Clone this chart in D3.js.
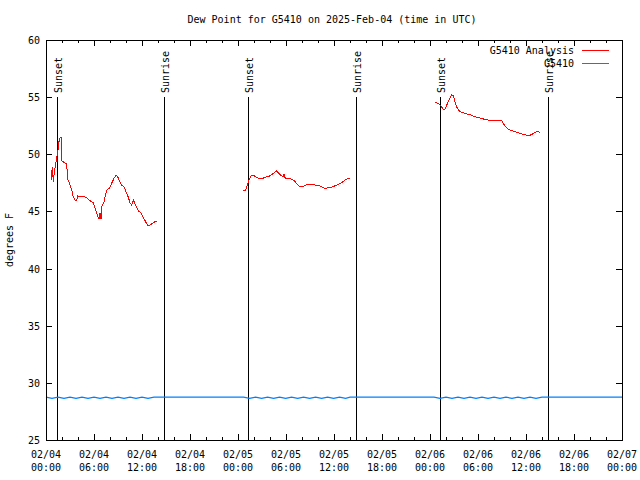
<!DOCTYPE html>
<html>
<head>
<meta charset="utf-8">
<script src="https://cdn.jsdelivr.net/npm/d3@7"></script>
<style>
  html, body { margin: 0; padding: 0; background: #fff; }
  svg { display: block; }
  text { font-family: "DejaVu Sans Mono", monospace; font-size: 10px; fill: #000; }
</style>
</head>
<body>
<svg id="chart" width="640" height="480"></svg>
<script>
// ---- data (hours after 2025-02-04 00:00 UTC) ----
const titleText = "Dew Point for G5410 on 2025-Feb-04 (time in UTC)";
const yLabel = "degrees F";
const seriesNames = ["G5410 Analysis", "G5410"];
const yTicks = [25, 30, 35, 40, 45, 50, 55, 60];

const sunsetHours = [1.4, 25.3, 49.3];
const sunriseHours = [14.8, 38.75, 62.7];

const redHours = [
  0.63, 0.71, 0.79, 0.92, 1.04, 1.17, 1.29, 1.46, 1.58, 1.75, 1.88, 1.9, 2.17, 2.58, 2.71, 2.88,
  3.21, 3.42, 3.63, 3.83, 3.96, 4.25, 4.54, 4.79, 5.08, 5.5, 5.92, 6.13, 6.46, 6.63, 6.75, 6.88,
  6.96, 7.25, 7.5, 7.67, 7.92, 8.21, 8.5, 8.75, 8.92, 9.17, 9.46, 9.75, 10.0, 10.29, 10.5, 10.71,
  10.92, 11.25, 11.54, 11.83, 12.08, 12.38, 12.67, 13.0, 13.33, 13.63, 13.92,
  19.0,
  24.63, 24.91, 25.16, 25.38, 25.66, 26.0, 26.29, 26.71, 27.13, 27.54, 27.96, 28.38, 28.79, 29.09,
  29.41, 29.63, 29.75, 29.91, 30.25, 30.66, 31.09, 31.41, 31.71, 32.0, 32.34, 32.66, 33.16, 33.79,
  34.21, 34.63, 34.91, 35.25, 35.66, 36.09, 36.5, 36.91, 37.34, 37.75, 37.96,
  43.0,
  48.63, 49.04, 49.34, 49.66, 49.88, 50.16, 50.41, 50.71, 50.91, 51.13, 51.41, 51.75, 52.16, 52.59,
  53.0, 53.41, 53.84, 54.25, 54.66, 55.29, 55.91, 56.54, 56.96, 57.16, 57.5, 57.79, 58.21, 58.63,
  59.04, 59.46, 59.88, 60.5, 60.84, 61.25, 61.54, 61.75
];
const redValues = [
  47.75, 48.36, 48.89, 47.58, 48.48, 48.98, 49.5, 50.11, 50.99, 51.43, 51.43, 49.44, 49.33, 49.15, 47.84, 47.58,
  46.88, 46.26, 46.0, 45.94, 46.35, 46.29, 46.26, 46.29, 46.18, 45.94, 45.76, 45.3, 44.6, 44.34, 44.86, 44.34,
  45.41, 45.85, 46.64, 46.94, 47.02, 47.46, 47.9, 48.13, 48.1, 47.69, 47.31, 47.16, 46.73, 46.24, 45.76, 45.56,
  46.0, 45.48, 45.06, 44.89, 44.6, 44.19, 43.81, 43.81, 43.96, 44.1, 44.19,
  null,
  46.79, 46.79, 47.31, 47.75, 48.13, 48.13, 48.01, 47.84, 47.9, 48.04, 48.1, 48.3, 48.54, 48.34,
  48.13, 48.04, 48.25, 47.9, 47.9, 47.84, 47.66, 47.37, 47.14, 47.14, 47.25, 47.37, 47.37, 47.29,
  47.25, 47.08, 47.02, 47.08, 47.11, 47.23, 47.37, 47.49, 47.72, 47.9, 47.9,
  null,
  54.55, 54.46, 54.23, 53.96, 53.96, 54.4, 54.81, 55.19, 55.16, 54.6, 54.02, 53.73, 53.64, 53.53,
  53.46, 53.35, 53.24, 53.18, 53.09, 53.0, 53.0, 53.0, 53.0, 52.71, 52.36, 52.19, 52.06, 51.98,
  51.89, 51.78, 51.69, 51.66, 51.78, 51.95, 52.01, 51.89
];

const blueHours = [
  0, 0.75, 1.5, 2.25, 3, 3.75, 4.5, 5.25, 6, 6.75, 7.5, 8.25, 9, 9.75, 10.5, 11.25, 12, 12.75, 13.5, 14,
  24.7, 25.45, 26.2, 26.95, 27.7, 28.45, 29.2, 29.95, 30.7, 31.45, 32.2, 32.95, 33.7, 34.45, 35.2, 35.95, 36.7, 37.45, 38.0,
  48.5, 49.25, 50, 50.75, 51.5, 52.25, 53, 53.75, 54.5, 55.25, 56, 56.75, 57.5, 58.25, 59, 59.75, 60.5, 61.25, 62, 62.7,
  72
];
const blueValues = [
  28.75, 28.65, 28.75, 28.65, 28.75, 28.65, 28.75, 28.65, 28.75, 28.65, 28.75, 28.65, 28.75, 28.65, 28.75, 28.65, 28.75, 28.65, 28.75, 28.75,
  28.75, 28.65, 28.75, 28.65, 28.75, 28.65, 28.75, 28.65, 28.75, 28.65, 28.75, 28.65, 28.75, 28.65, 28.75, 28.65, 28.75, 28.65, 28.75,
  28.75, 28.65, 28.75, 28.65, 28.75, 28.65, 28.75, 28.65, 28.75, 28.65, 28.75, 28.65, 28.75, 28.65, 28.75, 28.65, 28.75, 28.65, 28.75, 28.75,
  28.75
];

// ---- layout ----
const svg = d3.select("#chart");
const m = { left: 46, right: 622, top: 40, bottom: 440 };
const base = Date.UTC(2025, 1, 4);
const toDate = h => new Date(base + h * 3600e3);

const x = d3.scaleUtc().domain([toDate(0), toDate(72)]).range([m.left, m.right]);
const y = d3.scaleLinear().domain([25, 60]).range([m.bottom, m.top]);

const majorX = x.ticks(d3.utcHour.every(6));
const minorX = x.ticks(d3.utcHour.every(2)).filter(d => d.getUTCHours() % 6 !== 0);

const g = svg.append("g");

// ticks
const tickG = g.append("g").attr("stroke", "#000").attr("stroke-width", 1).attr("shape-rendering", "crispEdges");
majorX.forEach(d => {
  const xx = Math.round(x(d)) + 0.5;
  tickG.append("line").attr("x1", xx).attr("x2", xx).attr("y1", m.bottom).attr("y2", m.bottom - 6);
  tickG.append("line").attr("x1", xx).attr("x2", xx).attr("y1", m.top).attr("y2", m.top + 6);
});
minorX.forEach(d => {
  const xx = Math.round(x(d)) + 0.5;
  tickG.append("line").attr("x1", xx).attr("x2", xx).attr("y1", m.bottom).attr("y2", m.bottom - 3);
  tickG.append("line").attr("x1", xx).attr("x2", xx).attr("y1", m.top).attr("y2", m.top + 3);
});
yTicks.forEach(v => {
  const yy = Math.round(y(v)) + 0.5;
  tickG.append("line").attr("x1", m.left).attr("x2", m.left + 6).attr("y1", yy).attr("y2", yy);
  tickG.append("line").attr("x1", m.right).attr("x2", m.right - 6).attr("y1", yy).attr("y2", yy);
});

// y labels
yTicks.forEach(v => {
  g.append("text").attr("x", m.left - 6).attr("y", y(v) + 4).attr("text-anchor", "end").text(v);
});
// x labels
const fmtD = d3.utcFormat("%m/%d"), fmtT = d3.utcFormat("%H:%M");
majorX.forEach(d => {
  const t = g.append("text").attr("x", x(d)).attr("y", 458).attr("text-anchor", "middle");
  t.append("tspan").attr("x", x(d)).attr("dy", 0).text(fmtD(d));
  t.append("tspan").attr("x", x(d)).attr("dy", 13).text(fmtT(d));
});

// sun lines
const sunG = g.append("g");
function sunLine(h, label) {
  const xx = Math.round(x(toDate(h))) + 0.5;
  sunG.append("line").attr("x1", xx).attr("x2", xx).attr("y1", 97).attr("y2", m.bottom)
    .attr("stroke", "#000").attr("stroke-width", 1).attr("shape-rendering", "crispEdges");
  sunG.append("text").attr("transform", `translate(${xx + 4},93) rotate(-90)`)
    .attr("text-anchor", "start").text(label);
}
sunsetHours.forEach(h => sunLine(h, "Sunset"));
sunriseHours.forEach(h => sunLine(h, "Sunrise"));

// series
const redData = redHours.map((h, i) => ({ t: toDate(h), v: redValues[i] }));
const blueData = blueHours.map((h, i) => ({ t: toDate(h), v: blueValues[i] }));
const line = d3.line().defined(d => d.v !== null).x(d => x(d.t)).y(d => y(d.v));

g.append("path").datum(blueData).attr("d", line).attr("fill", "none").attr("stroke", "#0080ff")
  .attr("stroke-width", 1.2);
g.append("path").datum(redData).attr("d", line).attr("fill", "none").attr("stroke", "#ff0000")
  .attr("stroke-width", 1).attr("shape-rendering", "crispEdges");

// frame
g.append("rect").attr("x", m.left + 0.5).attr("y", m.top + 0.5)
  .attr("width", m.right - m.left).attr("height", m.bottom - m.top)
  .attr("fill", "none").attr("stroke", "#000").attr("shape-rendering", "crispEdges");

// title
g.append("text").attr("x", 332).attr("y", 23).attr("text-anchor", "middle").text(titleText);
// y label
g.append("text").attr("transform", "translate(13,240) rotate(-90)").attr("text-anchor", "middle").text(yLabel);

// legend
const legColors = ["#ff0000", "#0080ff"];
seriesNames.forEach((n, i) => {
  const ly = 50 + i * 13;
  g.append("text").attr("x", 574).attr("y", ly + 4).attr("text-anchor", "end").text(n);
  g.append("line").attr("x1", 582).attr("x2", 609).attr("y1", ly + 0.5).attr("y2", ly + 0.5)
    .attr("stroke", legColors[i]).attr("stroke-width", 1).attr("shape-rendering", "crispEdges");
});
</script>
</body>
</html>
